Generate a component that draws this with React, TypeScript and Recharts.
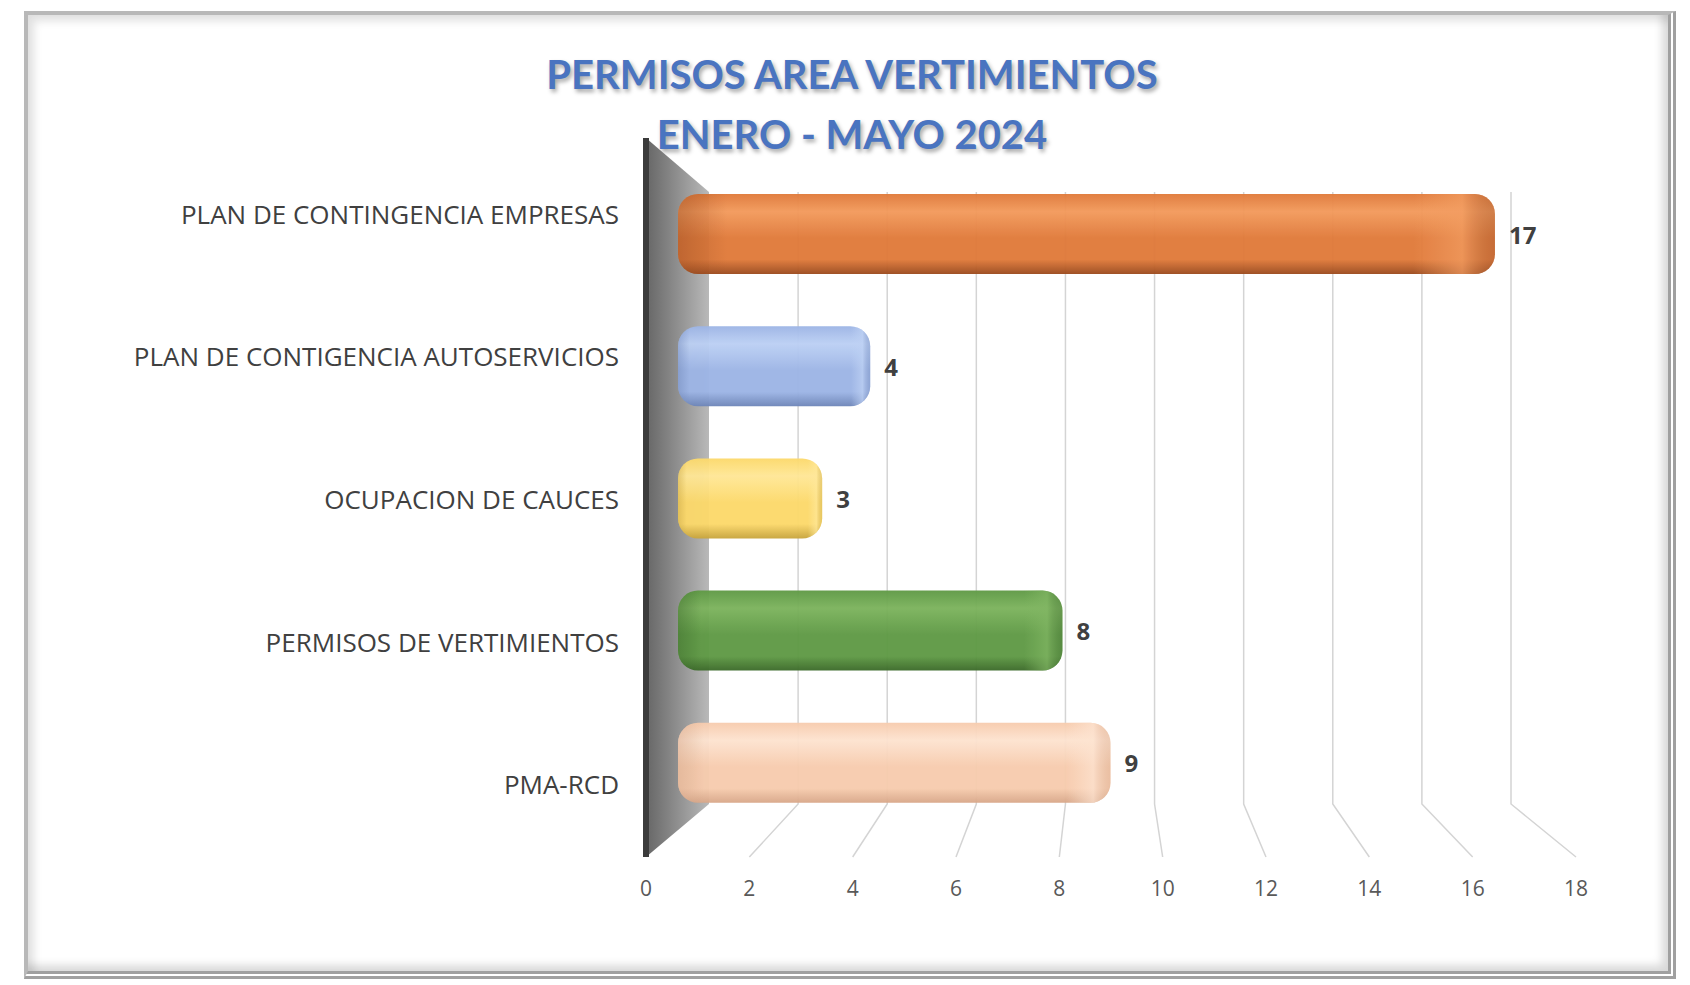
import { Bar, BarChart, CartesianGrid, LabelList, XAxis, YAxis } from "recharts";

const categories = [
  "PLAN DE CONTINGENCIA EMPRESAS",
  "PLAN DE CONTIGENCIA AUTOSERVICIOS",
  "OCUPACION DE CAUCES",
  "PERMISOS DE VERTIMIENTOS",
  "PMA-RCD",
];
const permisos = [17, 4, 3, 8, 9];
const xTicks = [0, 2, 4, 6, 8, 10, 12, 14, 16, 18];

// light / base / shade per bar
const barColors = [
  ["#f39a5c", "#e07a3a", "#9c4b1e"],
  ["#bcd0f4", "#9db5e6", "#6e86b9"],
  ["#ffe796", "#fcd96b", "#c9a53d"],
  ["#7cb35d", "#5f9a45", "#3b6a29"],
  ["#fde3d0", "#f7ccae", "#d8a789"],
];

const data = categories.map((name, i) => ({ name, value: permisos[i] }));

// pseudo 3d planes (the bars sit in the middle one)
const PLOT_LEFT = 678;
const BACK_LEFT = 709;
const BACK_RATIO = 802 / 865;
const FRONT_LEFT = 646;
const FRONT_RATIO = 930 / 865;
const GRID_TOP = 192;
const GRID_BACK_BOTTOM = 804;
const GRID_FRONT_Y = 857;
const TICK_LABEL_Y = 888;

const backX = (x: number) => BACK_LEFT + (x - PLOT_LEFT) * BACK_RATIO;
const frontX = (x: number) => FRONT_LEFT + (x - PLOT_LEFT) * FRONT_RATIO;

const FONT = "'Open Sans', 'Noto Sans', sans-serif";

const GridLine = (props: any) => {
  const { x1, index } = props;
  if (index === 0) {
    const bx = backX(x1);
    const fx = frontX(x1);
    return (
      <g key="wall">
        <polygon
          points={`${fx},138 ${bx},192 ${bx},${GRID_BACK_BOTTOM} ${fx},${GRID_FRONT_Y}`}
          fill="url(#wallFill)"
        />
        <line x1={fx} y1={138} x2={fx} y2={GRID_FRONT_Y} stroke="#3b3b3b" strokeWidth={6} />
      </g>
    );
  }
  const bx = backX(x1);
  return (
    <polyline
      key={`grid-${index}`}
      points={`${bx},${GRID_TOP} ${bx},${GRID_BACK_BOTTOM} ${frontX(x1)},${GRID_FRONT_Y}`}
      fill="none"
      stroke="#d4d4d4"
      strokeWidth={1.5}
    />
  );
};

const FrontTick = ({ x, payload }: any) => (
  <text
    x={frontX(x)}
    y={TICK_LABEL_Y}
    textAnchor="middle"
    dominantBaseline="central"
    fontFamily={FONT}
    fontSize={21}
    fill="#595959"
  >
    {payload.value}
  </text>
);

const CategoryTick = ({ y, payload }: any) => (
  <text
    x={619}
    y={1.0794 * y - 39}
    textAnchor="end"
    dominantBaseline="central"
    fontFamily={FONT}
    fontSize={26}
    fill="#404040"
  >
    {payload.value}
  </text>
);

const RoundBar = (props: any) => {
  const { x, y, width, height, index } = props;
  const r = Math.min(20, width / 2);
  return (
    <g opacity={0.96}>
      <rect x={x} y={y} width={width} height={height} rx={r} ry={r} fill={`url(#barV${index})`} />
      <rect x={x} y={y} width={width} height={height} rx={r} ry={r} fill={`url(#barH${index})`} />
    </g>
  );
};

const ValueLabel = ({ x, y, width, height, value }: any) => (
  <text
    x={x + width + 14}
    y={y + height / 2}
    dominantBaseline="central"
    fontFamily={FONT}
    fontWeight={700}
    fontSize={24}
    fill="#404040"
  >
    {value}
  </text>
);

export default function App() {
  return (
    <div style={{ position: "absolute", left: 0, top: 0, width: 1690, height: 985, background: "#fff" }}>
      <div
        style={{
          position: "absolute",
          left: 24,
          top: 11,
          width: 1640,
          height: 956,
          borderTop: "4px solid #b8b8b8",
          borderLeft: "4px solid #b8b8b8",
          borderRight: "8px double #a0a0a0",
          borderBottom: "8px double #a0a0a0",
          boxShadow: "inset 6px 6px 8px rgba(0,0,0,0.12), inset -6px -6px 8px rgba(0,0,0,0.15)",
        }}
      />
      <div
        style={{
          position: "absolute",
          left: 0,
          top: 44,
          width: 1704,
          textAlign: "center",
          fontFamily: "Lato, 'Open Sans', sans-serif",
          fontWeight: 700,
          fontSize: 40,
          lineHeight: "60px",
          color: "#4a74c0",
          textShadow: "2px 3px 4px rgba(0,0,0,0.35)",
        }}
      >
        <div>PERMISOS AREA VERTIMIENTOS</div>
        <div>ENERO - MAYO 2024</div>
      </div>
      <div style={{ position: "absolute", left: 0, top: 0 }}>
        <BarChart
          width={1690}
          height={985}
          data={data}
          layout="vertical"
          margin={{ top: 168, right: 147, bottom: 0, left: 0 }}
          barSize={80}
        >
          <defs>
            <linearGradient id="wallFill" x1="0" y1="0" x2="1" y2="0">
              <stop offset="0%" stopColor="#666666" />
              <stop offset="50%" stopColor="#8f8f8f" />
              <stop offset="100%" stopColor="#b9b9b9" />
            </linearGradient>
            {barColors.map(([light, base, shade], i) => (
              <linearGradient key={`v${i}`} id={`barV${i}`} x1="0" y1="0" x2="0" y2="1">
                <stop offset="0%" stopColor={base} />
                <stop offset="22%" stopColor={light} />
                <stop offset="55%" stopColor={base} />
                <stop offset="82%" stopColor={base} />
                <stop offset="100%" stopColor={shade} />
              </linearGradient>
            ))}
            {barColors.map(([light, , shade], i) => (
              <linearGradient key={`h${i}`} id={`barH${i}`} x1="0" y1="0" x2="1" y2="0">
                <stop offset="0%" stopColor={shade} stopOpacity={0.45} />
                <stop offset="6%" stopColor={shade} stopOpacity={0} />
                <stop offset="90%" stopColor={light} stopOpacity={0} />
                <stop offset="96%" stopColor={light} stopOpacity={0.7} />
                <stop offset="100%" stopColor={shade} stopOpacity={0.4} />
              </linearGradient>
            ))}
          </defs>
          <CartesianGrid horizontal={false} vertical={GridLine} />
          <XAxis
            type="number"
            domain={[0, 18]}
            ticks={xTicks}
            height={156}
            axisLine={false}
            tickLine={false}
            tick={<FrontTick />}
          />
          <YAxis
            type="category"
            dataKey="name"
            width={678}
            axisLine={false}
            tickLine={false}
            tick={<CategoryTick />}
          />
          <Bar dataKey="value" shape={<RoundBar />} isAnimationActive={false}>
            <LabelList dataKey="value" content={<ValueLabel />} />
          </Bar>
        </BarChart>
      </div>
    </div>
  );
}
